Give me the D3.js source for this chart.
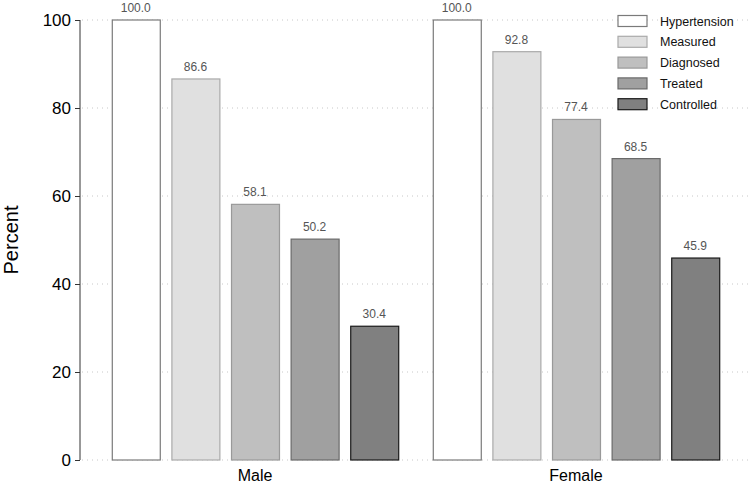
<!DOCTYPE html>
<html>
<head>
<meta charset="utf-8">
<script src="https://cdn.jsdelivr.net/npm/d3@7"></script>
<style>
  body { margin: 0; background: #fff; }
  svg { font-family: "Liberation Sans", Arial, sans-serif; }
</style>
</head>
<body>
<div id="chart"></div>
<script>
// === DATA ===
const groups = ["Male", "Female"];
const stages = ["Hypertension", "Measured", "Diagnosed", "Treated", "Controlled"];
const maleValues = [100.0, 86.6, 58.1, 50.2, 30.4];
const femaleValues = [100.0, 92.8, 77.4, 68.5, 45.9];
const yTicks = [0, 20, 40, 60, 80, 100];

const fills = ["#ffffff", "#e0e0e0", "#bfbfbf", "#a0a0a0", "#808080"];
const strokes = ["#7a7a7a", "#aaaaaa", "#999999", "#6a6a6a", "#1a1a1a"];

const rows = [];
groups.forEach((g, gi) => {
    const vals = gi === 0 ? maleValues : femaleValues;
    stages.forEach((s, si) => rows.push({ group: g, stage: s, value: vals[si], i: si }));
});

// === LAYOUT ===
const W = 750, H = 486;
const margin = { top: 20, right: 0, bottom: 26, left: 80 };

const svg = d3.select("#chart").append("svg")
    .attr("width", W)
    .attr("height", H);

const y = d3.scaleLinear()
    .domain([0, 100])
    .range([H - margin.bottom, margin.top]);

const x0 = d3.scaleBand()
    .domain(groups)
    .range([94.5, 736.5])
    .padding(0);

const x1 = d3.scaleBand()
    .domain(stages)
    .range([0, x0.bandwidth()])
    .paddingInner(0.195)
    .paddingOuter(0.29);

// grid lines (dotted)
svg.append("g")
    .selectAll("line")
    .data(yTicks)
    .join("line")
    .attr("x1", margin.left + 2)
    .attr("x2", W)
    .attr("y1", d => y(d))
    .attr("y2", d => y(d))
    .attr("stroke", "#c8c8c8")
    .attr("stroke-width", 1)
    .attr("stroke-dasharray", "1,4");

// y axis
const yAxis = svg.append("g")
    .attr("transform", `translate(${margin.left},0)`)
    .call(d3.axisLeft(y).tickValues(yTicks).tickSize(5).tickPadding(4).tickFormat(d3.format("d")));
yAxis.select(".domain").attr("stroke", "#333").attr("d", `M0,${y(0)}V${y(100)}`);
yAxis.selectAll(".tick line").attr("stroke", "#333");
yAxis.selectAll(".tick text")
    .attr("font-size", "17px")
    .attr("fill", "#000")
    .attr("font-family", "Liberation Sans, Arial, sans-serif");

svg.append("text")
    .attr("transform", `translate(18,${(y(0) + y(100)) / 2}) rotate(-90)`)
    .attr("text-anchor", "middle")
    .attr("font-size", "20px")
    .attr("fill", "#000")
    .text("Percent");

// bars
svg.append("g")
    .selectAll("rect")
    .data(rows)
    .join("rect")
    .attr("x", d => x0(d.group) + x1(d.stage) + 0.5)
    .attr("y", d => y(d.value))
    .attr("width", x1.bandwidth())
    .attr("height", d => y(0) - y(d.value))
    .attr("fill", d => fills[d.i])
    .attr("stroke", d => strokes[d.i])
    .attr("stroke-width", 1.2);

// value labels
svg.append("g")
    .selectAll("text")
    .data(rows)
    .join("text")
    .attr("x", d => x0(d.group) + x1(d.stage) + x1.bandwidth() / 2)
    .attr("y", d => y(d.value) - 8)
    .attr("text-anchor", "middle")
    .attr("font-size", "12px")
    .attr("fill", "#555")
    .text(d => d.value.toFixed(1));

// group labels
svg.append("g")
    .selectAll("text")
    .data(groups)
    .join("text")
    .attr("x", d => x0(d) + x0.bandwidth() / 2)
    .attr("y", H - 5)
    .attr("text-anchor", "middle")
    .attr("font-size", "16px")
    .attr("fill", "#000")
    .text(d => d);

// legend
const legend = svg.append("g").attr("transform", "translate(618,15.5)");
const item = legend.selectAll("g")
    .data(stages)
    .join("g")
    .attr("transform", (d, i) => `translate(0,${i * 20.8})`);
item.append("rect")
    .attr("width", 29)
    .attr("height", 11)
    .attr("fill", (d, i) => fills[i])
    .attr("stroke", (d, i) => strokes[i])
    .attr("stroke-width", 1.2);
item.append("text")
    .attr("x", 42)
    .attr("y", 10)
    .attr("font-size", "12.5px")
    .attr("fill", "#111")
    .text(d => d);
</script>
</body>
</html>
